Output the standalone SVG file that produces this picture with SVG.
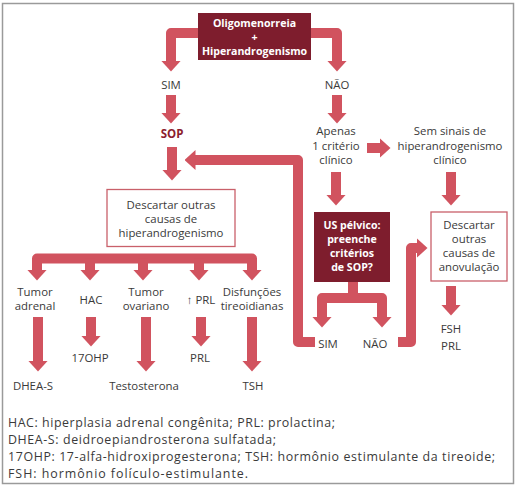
<svg xmlns="http://www.w3.org/2000/svg" width="520" height="487" viewBox="0 0 520 487">
<defs>
<style>
.t{font-family:"Open Sans","Noto Sans","Liberation Sans",sans-serif;font-size:11.4px;fill:#3a3a3a;text-anchor:middle}
.w{font-family:"Open Sans","Noto Sans","Liberation Sans",sans-serif;font-size:10.6px;font-weight:bold;fill:#ffffff;text-anchor:middle}
.sop{font-family:"Open Sans","Noto Sans","Liberation Sans",sans-serif;font-size:11.5px;font-weight:bold;fill:#8c1c2e;text-anchor:middle}
.lg{font-family:"Open Sans","Noto Sans","Liberation Sans",sans-serif;font-size:12.4px;fill:#3a3a3a}
.dark{fill:#7e1d2d}
.out{fill:#ffffff;stroke:#c9606a;stroke-width:1.3}
.c{fill:none;stroke:#d1535f;stroke-width:10;stroke-linejoin:round}
.a{marker-end:url(#ah)}
</style>
<marker id="ah" viewBox="0 0 11 20" refX="0.5" refY="10" markerWidth="1.1" markerHeight="2" orient="auto" markerUnits="strokeWidth">
<path d="M0,0 L11,10 L0,20 Z" fill="#d1535f"/>
</marker>
</defs>
<rect x="0" y="0" width="520" height="487" fill="#ffffff"/>
<rect x="2.5" y="3.5" width="511" height="480" fill="none" stroke="#9a9a9a" stroke-width="1.5"/>

<g id="connectors">
<path class="c a" d="M198,33 H171 V61"/>
<path class="c a" d="M311,33 H337 V61"/>
<path class="c a" d="M171,95 V113"/>
<path class="c a" d="M337,95 V113"/>
<path class="c a" d="M172,147 V170"/>
<path class="c a" d="M315,342 H298 V160 H195"/>
<path class="c a" d="M367,148 H380"/>
<path class="c a" d="M336,172 V195"/>
<path class="c a" d="M451,172 V195"/>
<path class="c a" d="M353,282 V298 H322 V317"/>
<path class="c a" d="M353,298 H382 V317"/>
<path class="c a" d="M398,342 H411 V248 H417"/>
<path class="c a" d="M451,286 V305"/>
<path class="c" d="M37,270 V258.5 H252 V270"/>
<path class="c a" d="M37,258.5 V270"/>
<path class="c a" d="M90,258.5 V270"/>
<path class="c a" d="M143,258.5 V270"/>
<path class="c a" d="M199,258.5 V270"/>
<path class="c a" d="M252,258.5 V270"/>
<path class="c a" d="M38,317 V361"/>
<path class="c a" d="M91,317 V336"/>
<path class="c a" d="M146,317 V361"/>
<path class="c a" d="M201,317 V336"/>
<path class="c a" d="M252,317 V361"/>
</g>

<g id="n-start">
<rect class="dark" x="198" y="13" width="113" height="47"/>
<text class="w" x="254.5" y="27">Oligomenorreia</text>
<text class="w" x="254.5" y="41">+</text>
<text class="w" x="254.5" y="55">Hiperandrogenismo</text>
</g>
<g id="n-sim"><text class="t" x="171" y="89">SIM</text></g>
<g id="n-nao"><text class="t" x="337" y="89">NÃO</text></g>
<g id="n-sop"><text class="sop" x="172" y="138">SOP</text></g>
<g id="n-apenas">
<text class="t" x="336" y="135">Apenas</text>
<text class="t" x="336" y="150">1 critério</text>
<text class="t" x="336" y="164">clínico</text>
</g>
<g id="n-semsinais">
<text class="t" x="450" y="135">Sem sinais de</text>
<text class="t" x="450" y="150">hiperandrogenismo</text>
<text class="t" x="450" y="164">clínico</text>
</g>
<g id="n-descartar1">
<rect class="out" x="107" y="189.5" width="128" height="57"/>
<text class="t" x="171" y="209">Descartar outras</text>
<text class="t" x="171" y="223">causas de</text>
<text class="t" x="171" y="237">hiperandrogenismo</text>
</g>
<g id="n-us">
<rect class="dark" x="314" y="212" width="76" height="70"/>
<text class="w" x="352" y="229">US pélvico:</text>
<text class="w" x="352" y="243">preenche</text>
<text class="w" x="352" y="257">critérios</text>
<text class="w" x="352" y="271">de SOP?</text>
</g>
<g id="n-descartar2">
<rect class="out" x="431" y="212" width="76" height="69"/>
<text class="t" x="469" y="229">Descartar</text>
<text class="t" x="469" y="243">outras</text>
<text class="t" x="469" y="257">causas de</text>
<text class="t" x="469" y="271">anovulação</text>
</g>
<g id="n-sim2"><text class="t" x="328" y="348">SIM</text></g>
<g id="n-nao2"><text class="t" x="375" y="348">NÃO</text></g>
<g id="n-fshprl">
<text class="t" x="451" y="333">FSH</text>
<text class="t" x="451" y="350">PRL</text>
</g>
<g id="n-tumoradrenal">
<text class="t" x="35" y="296">Tumor</text>
<text class="t" x="35" y="310">adrenal</text>
</g>
<g id="n-hac"><text class="t" x="91" y="304">HAC</text></g>
<g id="n-tumorovariano">
<text class="t" x="146" y="296">Tumor</text>
<text class="t" x="146" y="310">ovariano</text>
</g>
<g id="n-prlup"><text class="t" x="201" y="304">↑ PRL</text></g>
<g id="n-disf">
<text class="t" x="252" y="296">Disfunções</text>
<text class="t" x="252" y="310">tireoidianas</text>
</g>
<g id="n-dheas"><text class="t" x="33" y="390">DHEA-S</text></g>
<g id="n-17ohp"><text class="t" x="90" y="362">17OHP</text></g>
<g id="n-testo"><text class="t" x="144" y="390">Testosterona</text></g>
<g id="n-prl"><text class="t" x="200" y="362">PRL</text></g>
<g id="n-tsh"><text class="t" x="253" y="390">TSH</text></g>

<g id="legend">
<text class="lg" x="8" y="427" textLength="327" lengthAdjust="spacing">HAC: hiperplasia adrenal congênita; PRL: prolactina;</text>
<text class="lg" x="8" y="444" textLength="268" lengthAdjust="spacing">DHEA-S: deidroepiandrosterona sulfatada;</text>
<text class="lg" x="8" y="461" textLength="487" lengthAdjust="spacing">17OHP: 17-alfa-hidroxiprogesterona; TSH: hormônio estimulante da tireoide;</text>
<text class="lg" x="8" y="478" textLength="240" lengthAdjust="spacing">FSH: hormônio folículo-estimulante.</text>
</g>
</svg>
